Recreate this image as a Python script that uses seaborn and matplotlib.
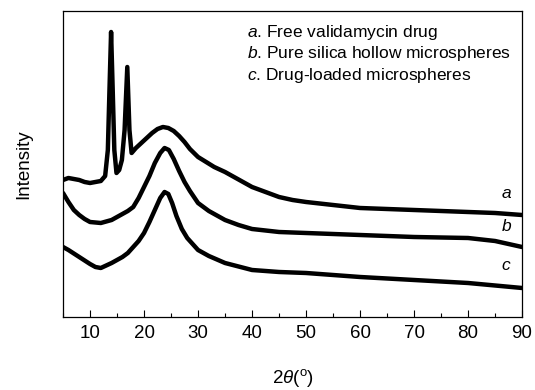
import numpy as np
import pandas as pd
import seaborn as sns
import matplotlib.pyplot as plt
from matplotlib.ticker import MultipleLocator

# XRD patterns, intensity in arbitrary units
x_a = [5, 6, 7, 8, 9, 10, 11, 12, 12.8, 13.3, 13.6, 13.9, 14.2, 14.5, 14.9, 15.4,
       15.9, 16.4, 16.9, 17.3, 17.7, 18.5, 19.5, 20.5, 21.5, 22.5, 23.5, 24.5, 25.5,
       26.5, 27.5, 28.5, 30, 31.5, 33, 35, 37, 40, 42.5, 45, 47.5, 50, 55, 60, 65,
       70, 75, 80, 85, 90]
y_a = [137, 139, 138, 137, 135, 134, 135, 136, 141, 167, 227, 285, 227, 167, 144, 147,
       157, 187, 250, 187, 164, 169, 174, 179, 184, 188, 190, 189, 186,
       181, 175, 168, 160, 155, 150, 145, 139, 130, 125, 120, 117, 115, 112, 109, 108,
       107, 106, 105, 104, 102]

x_b = [5, 6, 7, 8, 9, 10, 12, 14, 16, 17, 18, 19, 20, 21, 22, 23, 23.8, 24.6, 25.5,
       26.5, 27.5, 28.5, 30, 32, 35, 37.5, 40, 45, 50, 60, 70, 80, 85, 90]
y_b = [124, 115, 107, 102, 98, 95, 94, 97, 103, 106, 110, 119, 130, 141, 154, 164,
       169, 167, 158, 146, 135, 126, 114, 106, 97, 92, 88, 85, 84, 82, 80, 79, 76, 70]

x_c = [5, 6, 8, 10, 11, 12, 14, 16, 17, 18, 19, 20, 21, 22, 23, 23.8, 24.5, 25.2,
       26, 27, 28, 30, 32, 35, 40, 45, 50, 60, 70, 80, 90]
y_c = [70, 67, 60, 53, 50, 49, 54, 60, 64, 70, 76, 84, 95, 107, 119, 125, 123, 114,
       101, 88, 79, 67, 61, 54, 47, 45, 44, 40, 37, 34, 29]

legend_lines = ["Free validamycin drug", "Pure silica hollow microspheres",
                "Drug-loaded microspheres"]
curve_tags = ["a", "b", "c"]

sns.set_style("ticks")
plt.rcParams["font.family"] = ["Liberation Sans", "DejaVu Sans"]
plt.rcParams["text.color"] = "black"
plt.rcParams["axes.labelcolor"] = "black"
plt.rcParams["xtick.color"] = "black"
plt.rcParams["axes.edgecolor"] = "black"
plt.rcParams["mathtext.fontset"] = "custom"
plt.rcParams["mathtext.rm"] = "Liberation Sans"
plt.rcParams["mathtext.it"] = "Liberation Sans:italic"

fig = plt.figure(figsize=(5.35, 3.9), dpi=100)
ax = fig.add_axes([0.1178, 0.1872, 0.858, 0.7846])

for xs, ys in [(x_a, y_a), (x_b, y_b), (x_c, y_c)]:
    df = pd.DataFrame({"x": xs, "y": ys})
    sns.lineplot(data=df, x="x", y="y", ax=ax, color="black", lw=3.2,
                 estimator=None, sort=False, solid_joinstyle="round")

ax.set_xlim(5, 90)
ax.set_ylim(0, 306)
ax.set_yticks([])
ax.set_xticks([10, 20, 30, 40, 50, 60, 70, 80, 90])
ax.xaxis.set_minor_locator(MultipleLocator(5))
ax.tick_params(axis="x", which="major", direction="in", length=5, width=0.8,
               labelsize=13.5, pad=6, top=False)
ax.tick_params(axis="x", which="minor", direction="in", length=3, width=0.8, top=False)
for s in ax.spines.values():
    s.set_linewidth(0.9)

ax.set_xlabel(r"2$\it{\theta}$($^{\rm o}$)", fontsize=13.5, labelpad=18)
ax.set_ylabel("Intensity", fontsize=13.5, labelpad=22)

for i, (tag, txt) in enumerate(zip(curve_tags, legend_lines)):
    ax.text(0.4, 0.93 - i * 0.07, f"$\\it{{{tag}}}$. {txt}", transform=ax.transAxes,
            fontsize=12.5, va="center", ha="left")

ax.text(0.955, 0.39, "a", style="italic", fontsize=12.5, transform=ax.transAxes)
ax.text(0.955, 0.28, "b", style="italic", fontsize=12.5, transform=ax.transAxes)
ax.text(0.955, 0.155, "c", style="italic", fontsize=12.5, transform=ax.transAxes)

fig.savefig("out.png", dpi=100)
